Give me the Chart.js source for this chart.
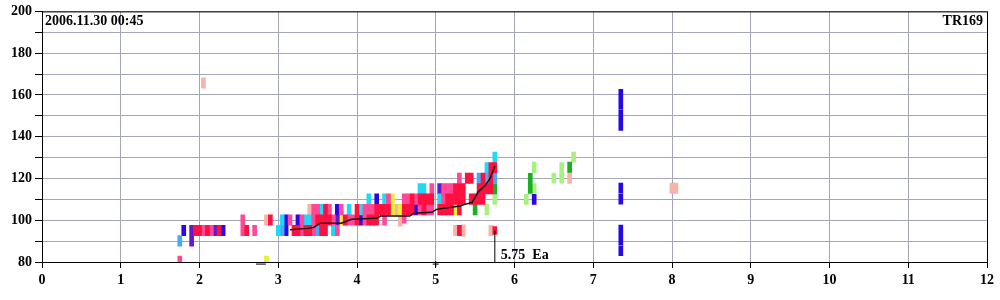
<!DOCTYPE html>
<html>
<head>
<meta charset="utf-8">
<script src="https://cdn.jsdelivr.net/npm/chart.js@4"></script>
<style>
  html, body { margin: 0; padding: 0; background: #fff; }
  #wrap { width: 1000px; height: 300px; }
</style>
</head>
<body>
<div id="wrap"><canvas id="chart" width="1000" height="300"></canvas></div>
<script>
// cells: [x, low, high]
const redCells = [
  [1.95, 92.6, 97.6], [2.00, 92.6, 97.6], [2.10, 92.6, 97.6], [2.25, 92.6, 97.6],
  [2.60, 92.6, 97.6], [2.90, 97.6, 102.6],
  [3.20, 92.6, 97.6], [3.25, 92.6, 97.6], [3.35, 92.6, 97.6], [3.40, 92.6, 97.6],
  [3.50, 97.6, 102.6], [3.55, 92.6, 102.6], [3.60, 92.6, 107.6], [3.65, 97.6, 102.6],
  [3.85, 97.6, 102.6], [4.00, 97.6, 107.6],
  [4.15, 97.6, 102.6], [4.20, 97.6, 102.6], [4.25, 97.6, 107.6], [4.30, 102.6, 107.6],
  [4.35, 102.6, 107.6], [4.40, 102.6, 107.6],
  [4.60, 102.6, 107.6], [4.65, 102.6, 107.6], [4.70, 102.6, 112.6],
  [4.80, 107.6, 112.6], [4.85, 102.6, 112.6], [4.90, 107.6, 112.6], [4.95, 107.6, 112.6],
  [5.05, 102.6, 107.6], [5.10, 102.6, 107.6], [5.15, 102.6, 112.6], [5.20, 102.6, 112.6],
  [5.25, 107.6, 117.6], [5.30, 102.6, 117.6], [5.35, 107.6, 117.6], [5.30, 92.6, 97.6],
  [5.40, 117.6, 122.6], [5.45, 117.6, 122.6], [5.45, 107.6, 112.6], [5.50, 107.6, 112.6],
  [5.55, 107.6, 117.6], [5.60, 107.6, 122.6], [5.65, 112.6, 117.6], [5.70, 112.6, 127.6],
  [5.75, 122.6, 127.6], [5.75, 93.2, 97.0]
];
const pinkCells = [
  [1.75, 80.2, 82.8],
  [2.05, 92.6, 97.6], [2.15, 92.6, 97.6],
  [2.55, 92.6, 102.6], [2.70, 92.6, 97.6],
  [3.15, 97.6, 102.6], [3.30, 92.6, 102.6], [3.45, 92.6, 107.6], [3.50, 102.6, 107.6],
  [3.65, 102.6, 107.6], [3.70, 97.6, 102.6], [3.75, 92.6, 97.6], [3.80, 102.6, 107.6],
  [3.90, 97.6, 102.6], [3.95, 97.6, 102.6],
  [4.10, 97.6, 107.6], [4.15, 102.6, 107.6], [4.20, 102.6, 107.6], [4.35, 97.6, 102.6],
  [4.40, 107.6, 112.6], [4.60, 98.6, 102.0], [4.60, 107.6, 112.6], [4.65, 107.6, 112.6],
  [4.75, 107.6, 112.6], [4.80, 102.6, 107.6], [4.90, 102.6, 107.6], [4.95, 102.6, 107.6],
  [4.95, 112.6, 117.6], [5.10, 107.6, 117.6], [5.15, 112.6, 117.6], [5.20, 112.6, 117.6],
  [5.30, 117.6, 122.6]
];
const cyanCells = [
  [3.00, 92.6, 97.6], [3.05, 97.6, 102.6], [3.35, 97.6, 102.6], [3.40, 97.6, 102.6],
  [3.55, 102.6, 107.6], [3.70, 92.6, 97.6], [3.90, 102.6, 107.6], [4.05, 102.6, 107.6],
  [4.15, 107.6, 112.6], [4.35, 107.6, 112.6], [4.80, 112.6, 117.6], [4.85, 112.6, 117.6],
  [5.05, 107.6, 112.6], [5.65, 122.6, 127.6], [5.75, 127.6, 132.6]
];
const lightBlueCells = [
  [1.75, 87.6, 92.6], [3.05, 92.6, 97.6], [3.50, 92.6, 97.6],
  [5.55, 117.6, 122.6], [5.65, 117.6, 122.6], [5.75, 117.6, 122.6]
];
const blueCells = [
  [1.80, 92.6, 97.6], [2.30, 92.6, 97.6], [3.10, 92.6, 102.6], [3.25, 97.6, 102.6],
  [3.75, 102.6, 107.6], [4.05, 97.6, 102.6], [4.25, 107.6, 112.6], [4.75, 102.6, 107.6],
  [6.25, 107.6, 112.4],
  [7.35, 143.0, 152.6], [7.35, 153.1, 162.7], [7.35, 112.9, 117.8], [7.35, 107.7, 112.5],
  [7.35, 88.0, 97.7], [7.35, 83.0, 87.6]
];
const purpleCells = [
  [1.90, 87.6, 97.6], [2.20, 92.6, 97.6], [3.75, 97.6, 102.6], [5.05, 112.6, 117.6]
];
const yellowCells = [
  [2.85, 80.2, 82.8], [3.80, 97.6, 102.6], [4.45, 102.6, 112.6], [4.55, 102.6, 107.6],
  [5.25, 102.6, 107.6]
];
const salmonCells = [
  [2.05, 163.2, 168.2], [2.85, 97.6, 102.6], [3.40, 102.6, 107.6], [4.50, 102.6, 107.6],
  [4.55, 97.2, 102.6], [5.25, 92.6, 97.6], [5.35, 92.2, 97.8], [5.70, 92.6, 97.6],
  [6.70, 117.6, 122.6], [8.00, 112.8, 117.8], [8.05, 112.8, 117.8]
];
const greenCells = [
  [5.50, 102.6, 107.6], [5.75, 112.6, 117.6], [6.20, 112.8, 122.4], [6.70, 122.8, 127.8]
];
const lightGreenCells = [
  [5.65, 102.6, 107.6], [5.75, 107.6, 112.4], [6.15, 107.6, 112.4], [6.25, 122.8, 127.8],
  [6.25, 112.8, 117.6], [6.50, 117.8, 122.6], [6.60, 117.8, 127.6], [6.75, 127.8, 132.6]
];

// running line
const lineX = [3.15, 3.37, 3.45, 3.53, 3.8, 3.93, 4.25, 4.3, 4.67, 4.72, 4.95, 5.01, 5.31, 5.37, 5.46, 5.54, 5.63, 5.69, 5.75];
const lineY = [95.4, 96.1, 96.5, 98.6, 98.6, 100.5, 100.9, 102, 102, 103.3, 103.8, 105.2, 106.8, 107.6, 108.5, 113.6, 116.8, 120, 126];

// marker at 5.75 and small axis marks
const markerX = 5.75;
const markerTop = 95;
const markerLabel = '5.75  Ea';
const dashX = [2.78];
const crossX = [5.0];

const xTicks = [0, 1, 2, 3, 4, 5, 6, 7, 8, 9, 10, 11, 12];
const yLabels = [80, 100, 120, 140, 160, 180, 200];
const dateLabel = '2006.11.30 00:45';
const codeLabel = 'TR169';

const FONT = "'Liberation Serif', 'DejaVu Serif', serif";

function cellSet(cells, color) {
  return {
    type: 'bar',
    data: cells.map(c => ({ x: c[0], y: [c[1], c[2]] })),
    backgroundColor: color,
    borderWidth: 0,
    barThickness: 4,
    grouped: false
  };
}

const frame = {
  id: 'frame',
  afterDatasetsDraw(chart) {
    const { ctx, chartArea: a, scales } = chart;
    ctx.save();
    ctx.strokeStyle = '#000';
    ctx.lineWidth = 1;
    ctx.strokeRect(a.left + 0.5, a.top + 0.5, a.right - a.left, a.bottom - a.top);

    ctx.fillStyle = '#000';
    ctx.font = 'bold 14px ' + FONT;
    ctx.textBaseline = 'alphabetic';
    ctx.textAlign = 'left';
    ctx.fillText(dateLabel, a.left + 3, a.top + 14);
    ctx.textAlign = 'right';
    ctx.fillText(codeLabel, a.right - 4, a.top + 14);

    ctx.textAlign = 'left';
    ctx.fillText(markerLabel, scales.x.getPixelForValue(markerX) + 6, a.bottom - 3);
    ctx.restore();
  }
};

new Chart(document.getElementById('chart'), {
  type: 'bar',
  data: {
    datasets: [
      {
        type: 'line',
        data: lineX.map((x, i) => ({ x, y: lineY[i] })),
        borderColor: '#111',
        borderWidth: 1.5,
        pointRadius: 0,
        tension: 0,
        order: -1
      },
      {
        type: 'line',
        data: [{ x: markerX, y: 80 }, { x: markerX, y: markerTop }],
        borderColor: '#000',
        borderWidth: 1,
        pointRadius: 0,
        order: -1
      },
      {
        type: 'scatter',
        data: dashX.map(x => ({ x, y: 79 })),
        pointStyle: 'line',
        pointRadius: 5,
        borderColor: '#000',
        borderWidth: 1,
        clip: false
      },
      {
        type: 'scatter',
        data: crossX.map(x => ({ x, y: 79 })),
        pointStyle: 'cross',
        pointRadius: 3,
        borderColor: '#000',
        borderWidth: 1,
        clip: false
      },
      cellSet(redCells, '#ff1040'),
      cellSet(pinkCells, '#ff4898'),
      cellSet(cyanCells, '#20d8f8'),
      cellSet(lightBlueCells, '#48a8f8'),
      cellSet(blueCells, '#2808e8'),
      cellSet(purpleCells, '#6818c8'),
      cellSet(yellowCells, '#e8f030'),
      cellSet(salmonCells, '#f8b4a8'),
      cellSet(greenCells, '#18b020'),
      cellSet(lightGreenCells, '#a8f080')
    ]
  },
  options: {
    responsive: false,
    animation: false,
    layout: { padding: { top: 11, right: 13, left: 0, bottom: 0 } },
    plugins: {
      legend: { display: false },
      tooltip: { enabled: false }
    },
    scales: {
      x: {
        type: 'linear',
        min: 0,
        max: 12,
        offset: false,
        afterFit: s => { s.height = 38; },
        afterBuildTicks: s => { s.ticks = xTicks.map(v => ({ value: v })); },
        grid: { offset: false, color: '#a4a6b8', tickColor: '#000', tickLength: 6 },
        border: { color: '#000' },
        ticks: {
          color: '#000',
          padding: 4,
          maxRotation: 0,
          font: { family: FONT, size: 14, weight: 'bold' }
        }
      },
      y: {
        min: 80,
        max: 200,
        afterFit: s => { s.width = 42; },
        grid: { color: '#a4a6b8', tickColor: '#000', tickLength: 7 },
        border: { color: '#000' },
        ticks: {
          stepSize: 10,
          color: '#000',
          padding: 3,
          font: { family: FONT, size: 14, weight: 'bold' },
          callback: v => (yLabels.includes(v) ? String(v) : '')
        }
      }
    }
  },
  plugins: [frame]
});
</script>
</body>
</html>
